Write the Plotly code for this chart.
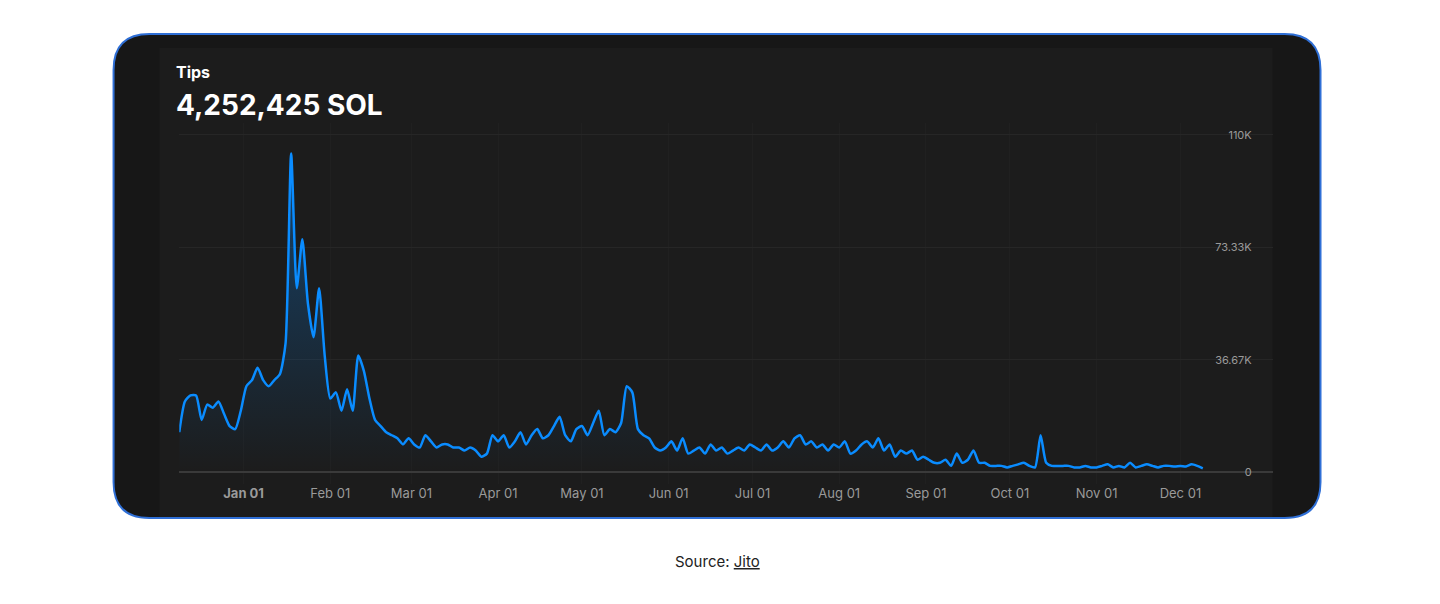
import pandas as pd
import plotly.graph_objects as go

# tips (thousands of SOL), sampled every 2 days from 2023-12-09
tips_k = [13, 23, 25, 25, 17, 22, 21, 23, 19, 15, 14, 20,
          28, 30, 34, 30, 28, 30, 32, 42, 104, 60, 76, 55, 44, 60, 38,
          24, 26, 20, 27, 20, 38, 33, 24, 17, 15, 13, 12, 11, 9, 11,
          9, 8, 12, 10, 8, 9, 9, 8, 8, 7, 8, 7, 5, 6, 12,
          10, 12, 8, 10, 13, 9, 12, 14, 11, 12, 15, 18, 12, 10, 14,
          15, 12, 16, 20, 12, 14, 13, 16, 28, 26, 14, 12, 11, 8, 7, 8,
          10, 7, 11, 6, 7, 8, 6, 9, 7, 8, 6, 7, 8, 7, 9,
          8, 7, 9, 7, 8, 10, 8, 11, 12, 9, 10, 8, 9, 7, 9,
          8, 10, 6, 7, 9, 10, 8, 11, 7, 9, 5, 7, 6, 7, 4, 5,
          4, 3, 3, 4, 2, 6, 3, 4, 7, 3, 3, 2, 2, 2, 1.5,
          2, 2.5, 3, 2, 1.5, 12, 3, 2, 2, 2, 2, 1.5, 1.5, 2, 1.5,
          1.5, 2, 2.5, 1.5, 2, 1.5, 3, 1.5, 2, 2.5, 2, 1.5, 2, 2, 1.8,
          2, 1.8, 2.5, 2, 1.2]
dates = pd.date_range("2023-12-09", periods=len(tips_k), freq="2D")
tips = [v * 1000 for v in tips_k]

month_ticks = pd.date_range("2024-01-01", "2025-01-01", freq="MS")
month_labels = ["<b>Jan 01</b>", "Feb 01", "Mar 01", "Apr 01", "May 01", "Jun 01",
                "Jul 01", "Aug 01", "Sep 01", "Oct 01", "Nov 01", "Dec 01", "<b>Jan</b>"]
y_ticks = [0, 36670, 73330, 110000]
y_labels = ["0", "36.67K", "73.33K", "110K"]

W, H = 1440, 604
OFF = 8  # page body margin
px = lambda x: (x - OFF) / W
py = lambda y: 1 - (y - OFF) / H


def rounded_rect(x0, y0, x1, y1, r):
    rx, ry = r / W, r / H
    a, b, c, d = px(x0), py(y1), px(x1), py(y0)
    return (f"M{a+rx},{b} L{c-rx},{b} Q{c},{b} {c},{b+ry} L{c},{d-ry} Q{c},{d} {c-rx},{d} "
            f"L{a+rx},{d} Q{a},{d} {a},{d-ry} L{a},{b+ry} Q{a},{b} {a+rx},{b} Z")


# y pixel positions: 0 -> 472, 110K -> 135; pad range so end labels show
y_lo, y_hi = -4000, 114000
scale = (472 - 135) / 110000
fig = go.Figure()
fig.add_trace(go.Scatter(
    x=dates, y=tips, mode="lines", line=dict(color="#0a8cff", width=2.5, shape="spline", smoothing=0.6),
    fill="tozeroy",
    fillgradient=dict(type="vertical",
                      colorscale=[[0, "rgba(10,140,255,0)"], [1, "rgba(10,140,255,0.35)"]]),
    hoverinfo="x+y", showlegend=False))

fig.update_layout(
    width=W, height=H, paper_bgcolor="white", plot_bgcolor="rgba(0,0,0,0)",
    margin=dict(l=0, r=0, t=0, b=0), font=dict(family="Inter, Noto Sans", color="#9a9a9a"),
    shapes=[
        dict(type="path", xref="paper", yref="paper", path=rounded_rect(114, 34, 1326, 518, 36),
             fillcolor="#171717", line=dict(color="#2f6fd6", width=2), layer="below"),
        dict(type="rect", xref="paper", yref="paper", x0=px(160), x1=px(1278), y0=py(517), y1=py(48),
             fillcolor="#1c1c1c", line=dict(width=0), layer="below"),
    ],
    annotations=[
        dict(text="<b>Tips</b>", x=px(175), y=py(72), xref="paper", yref="paper", xanchor="left",
             yanchor="middle", showarrow=False, font=dict(size=16, color="white")),
        dict(text="<b>4,252,425 SOL</b>", x=px(175), y=py(105), xref="paper", yref="paper",
             xanchor="left", yanchor="middle", showarrow=False, font=dict(size=28, color="white")),
        dict(text="Source: <u>Jito</u>", x=px(720), y=py(561), xref="paper", yref="paper",
             yanchor="middle", showarrow=False, font=dict(size=15, color="#222222")),
    ],
    xaxis=dict(domain=[px(180), px(1278)], range=["2023-12-09", "2025-01-03"],
               tickvals=month_ticks, ticktext=month_labels, showgrid=True, gridcolor="#202020",
               zeroline=False, showline=False, ticks="", tickfont=dict(size=13, color="#9a9a9a")),
    yaxis=dict(domain=[py(472 + (0 - y_lo) * scale), py(135 - (y_hi - 110000) * scale)],
               range=[y_lo, y_hi], side="right", tickvals=y_ticks,
               ticktext=y_labels, ticklabelposition="inside", ticklabelstandoff=18,
               showgrid=True, gridcolor="#262626", zeroline=True, zerolinecolor="#3a3a3a",
               tickfont=dict(size=11, color="#9a9a9a")),
)
fig.write_html("out.html")
